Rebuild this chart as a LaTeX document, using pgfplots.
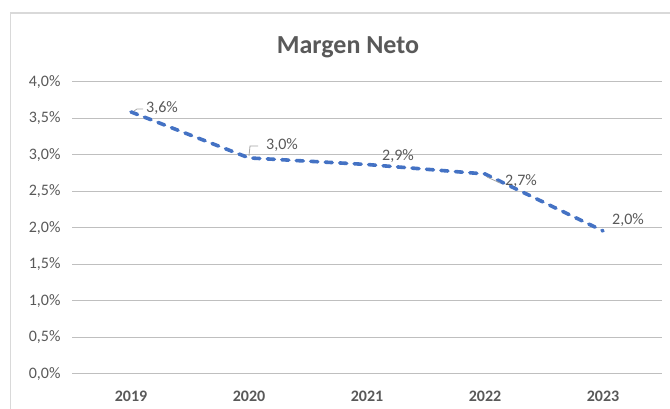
\documentclass[border=0pt]{standalone}
\usepackage{pgfplots}
\pgfplotsset{compat=1.18}
\usepackage{fontspec}
\setmainfont{Carlito}
\definecolor{txt}{HTML}{595959}
\definecolor{grid}{HTML}{D9D9D9}
\definecolor{line}{HTML}{4472C4}
\definecolor{frame}{HTML}{D9D9D9}
\begin{document}
\begin{tikzpicture}[x=1pt,y=1pt]
\useasboundingbox (0,0) rectangle (670,409);
\fill[white] (0,0) rectangle (670,409);
\draw[frame,line width=1.2pt] (10.5,0) -- (10.5,396) -- (670,396);
\begin{axis}[
  name=ax,
  at={(72pt,35pt)}, anchor=south west,
  scale only axis, width=590pt, height=292pt,
  xmin=-0.5, xmax=4.5, ymin=0, ymax=4,
  xtick={0,1,2,3,4},
  xticklabels={2019,2020,2021,2022,2023},
  ytick={0,0.5,1,1.5,2,2.5,3,3.5,4},
  yticklabel={\pgfmathprintnumber[fixed,fixed zerofill,precision=1,use comma]{\tick}\%\hspace{9pt}},
  /pgf/number format/assume math mode=true,
  axis line style={draw=none},
  major tick length=0pt,
  xmajorgrids=false,
  ymajorgrids=true, grid style={grid, line width=1pt},
  x tick label style={font=\fontsize{16}{18}\selectfont\bfseries, text=txt},
  y tick label style={font=\fontsize{16}{18}\selectfont, text=txt},
  xticklabel shift=13pt, yticklabel shift=8pt,
  clip=false,
]
\addplot[line, line width=3.6pt, dash pattern=on 7pt off 7.5pt, line cap=round] coordinates {
  (0,3.59) (1,2.96) (2,2.87) (3,2.74) (4,1.96)
};
\end{axis}
\begin{scope}[every node/.style={font=\fontsize{16}{18}\selectfont, text=txt, inner sep=0pt}]
\node at (162,301) {3,6\%};
\node at (282,264) {3,0\%};
\node at (398,253) {2,9\%};
\node at (521,228) {2,7\%};
\node at (628,189) {2,0\%};
\node[font=\fontsize{26}{30}\selectfont\bfseries] at (348,362) {Margen Neto};
\end{scope}
\draw[gray!70, line width=0.8pt] (134,298) -- (137,300) -- (143,300);
\draw[gray!70, line width=0.8pt] (249,253) -- (250,263) -- (258,263);
\draw[gray!70, line width=0.8pt] (487,232) -- (500,226);
\end{tikzpicture}
\end{document}
